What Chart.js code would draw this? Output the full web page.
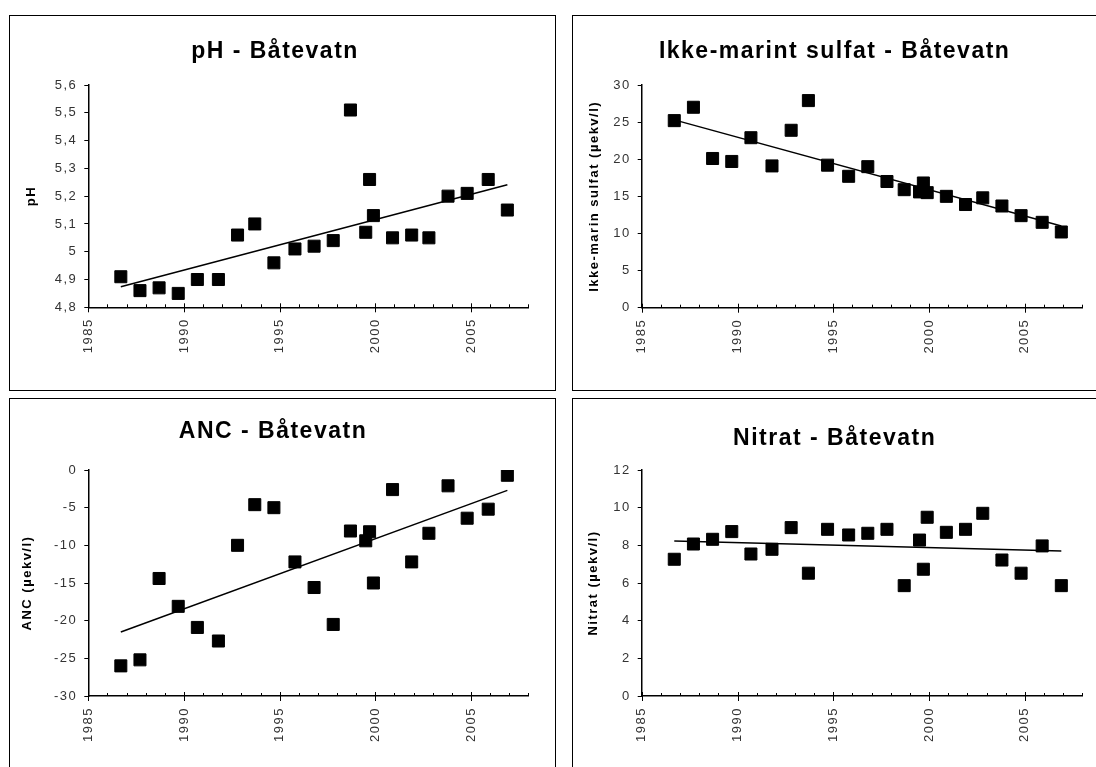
<!DOCTYPE html>
<html>
<head>
<meta charset="utf-8">
<title>Båtevatn</title>
<script src="https://cdn.jsdelivr.net/npm/chart.js@4.4.1/dist/chart.umd.min.js"></script>
<style>
    html, body { margin: 0; padding: 0; background: #fff; overflow: hidden; }
    body { position: relative; width: 1096px; height: 767px; }
    .panel { position: absolute; border: 1px solid #000; background: #fff; }
    .panel canvas { display: block; }
</style>
</head>
<body>

<div class="panel" style="left:9px;top:15px"><canvas id="phChart" width="545" height="374"></canvas></div>
<div class="panel" style="left:572px;top:15px"><canvas id="sulfatChart" width="536" height="374"></canvas></div>
<div class="panel" style="left:9px;top:398px"><canvas id="ancChart" width="545" height="380"></canvas></div>
<div class="panel" style="left:572px;top:398px"><canvas id="nitratChart" width="536" height="380"></canvas></div>

<script>
// sampling dates (decimal year), shared by all four series
const years = [1986.7, 1987.7, 1988.7, 1989.7, 1990.7, 1991.8, 1992.8, 1993.7, 1994.7, 1995.8, 1996.8, 1997.8,
    1998.7, 1999.5, 1999.7, 1999.9, 2000.9, 2001.9, 2002.8, 2003.8, 2004.8, 2005.9, 2006.9]

const phValues = [4.91, 4.86, 4.87, 4.85, 4.90, 4.90, 5.06, 5.10, 4.96, 5.01, 5.02, 5.04,
    5.51, 5.07, 5.26, 5.13, 5.05, 5.06, 5.05, 5.20, 5.21, 5.26, 5.15]
const sulfatValues = [25.2, 27.0, 20.1, 19.7, 22.9, 19.1, 23.9, 27.9, 19.2, 17.7, 19.0, 17.0,
    15.9, 15.6, 16.8, 15.5, 15.0, 13.9, 14.8, 13.7, 12.4, 11.5, 10.2]
const ancValues = [-26.0, -25.2, -14.4, -18.1, -20.9, -22.7, -10.0, -4.6, -5.0, -12.2, -15.6, -20.5,
    -8.1, -9.4, -8.2, -15.0, -2.6, -12.2, -8.4, -2.1, -6.4, -5.2, -0.7]
const nitratValues = [7.26, 8.07, 8.32, 8.73, 7.54, 7.79, 8.94, 6.52, 8.85, 8.55, 8.64, 8.85,
    5.86, 8.28, 6.73, 9.49, 8.69, 8.85, 9.70, 7.22, 6.52, 7.97, 5.86]

const trendYears = [1986.7, 2006.9]
const phTrend = [4.874, 5.241]
const sulfatTrend = [25.3, 11.0]
const ancTrend = [-21.5, -2.7]
const nitratTrend = [8.23, 7.70]

const FONT = "'Liberation Sans', Arial, sans-serif"

// excel-ish look: wide letter spacing and year ticks on the x axis
const excelLook = {
    id: 'excelLook',
    beforeDraw(chart) {
        chart.ctx.letterSpacing = '1.5px'
    },
    afterDraw(chart) {
        const ctx = chart.ctx
        const x = chart.scales.x
        const axisY = chart.chartArea.bottom
        ctx.save()
        ctx.letterSpacing = '0px'
        ctx.strokeStyle = '#000'
        ctx.lineWidth = 1
        x.ticks.forEach(t => {
            const px = Math.round(x.getPixelForValue(t.value)) + 0.5
            const major = t.value % 5 === 0
            ctx.beginPath()
            ctx.moveTo(px, axisY - (major ? 4 : 3))
            ctx.lineTo(px, axisY + (major ? 5 : 0))
            ctx.stroke()
        })
        ctx.restore()
        ctx.letterSpacing = '0px'
    }
}

function makeChart(id, o) {
    return new Chart(document.getElementById(id), {
        type: 'scatter',
        data: {
            datasets: [
                {
                    data: years.map((x, i) => ({ x, y: o.values[i] })),
                    pointStyle: 'rect',
                    pointRadius: 8.5,
                    backgroundColor: '#000',
                    borderColor: '#000',
                    borderWidth: 1
                },
                {
                    data: trendYears.map((x, i) => ({ x, y: o.trend[i] })),
                    showLine: true,
                    pointRadius: 0,
                    borderColor: '#000',
                    borderWidth: 1.5
                }
            ]
        },
        options: {
            responsive: false,
            animation: false,
            events: [],
            layout: { padding: { left: o.padLeft, right: o.padRight, top: 0, bottom: 0 } },
            plugins: {
                legend: { display: false },
                tooltip: { enabled: false },
                title: {
                    display: true,
                    text: o.title,
                    color: '#000',
                    font: { family: FONT, size: 23, weight: 'bold', lineHeight: 1.2 },
                    padding: { top: o.titleTop, bottom: o.titleBottom }
                }
            },
            scales: {
                x: {
                    type: 'linear',
                    min: 1985,
                    max: 2008,
                    afterFit: s => { s.height = o.xHeight },
                    border: { color: '#000', width: 1.5 },
                    grid: { display: false, drawTicks: false },
                    ticks: {
                        stepSize: 1,
                        autoSkip: false,
                        minRotation: 90,
                        maxRotation: 90,
                        padding: 11,
                        color: '#333',
                        font: { family: FONT, size: 13 },
                        callback: v => v % 5 === 0 ? String(v) : ''
                    }
                },
                y: {
                    min: o.min,
                    max: o.max,
                    afterFit: s => { s.width = o.yWidth },
                    border: { color: '#000', width: 1.5 },
                    grid: { drawOnChartArea: false, drawTicks: true, tickLength: 4, tickColor: '#000' },
                    ticks: {
                        stepSize: o.step,
                        padding: 7,
                        color: '#333',
                        font: { family: FONT, size: 13 },
                        callback: v => String(Math.round(v * 10) / 10).replace('.', ',')
                    },
                    title: {
                        display: true,
                        text: o.yTitle,
                        color: '#000',
                        font: { family: FONT, size: 13, weight: 'bold', lineHeight: 1.2 },
                        padding: { top: o.yTitlePad, bottom: 0 }
                    }
                }
            }
        },
        plugins: [excelLook]
    })
}

makeChart('phChart', {
    title: 'pH - Båtevatn', yTitle: 'pH',
    values: phValues, trend: phTrend, min: 4.8, max: 5.6, step: 0.1,
    padLeft: 10, padRight: 25, yWidth: 68.3, yTitlePad: 3.2,
    titleTop: 22.2, titleBottom: 19.2, xHeight: 82.7
})

makeChart('sulfatChart', {
    title: 'Ikke-marint sulfat - Båtevatn', yTitle: 'Ikke-marin sulfat (µekv/l)',
    values: sulfatValues, trend: sulfatTrend, min: 0, max: 30, step: 5,
    padLeft: 10, padRight: 22.7, yWidth: 58.7, yTitlePad: 3.2,
    titleTop: 22.2, titleBottom: 19.2, xHeight: 82.3
})

makeChart('ancChart', {
    title: 'ANC - Båtevatn', yTitle: 'ANC (µekv/l)',
    values: ancValues, trend: ancTrend, min: -30, max: 0, step: 5,
    padLeft: 6, padRight: 25, yWidth: 72.3, yTitlePad: 3.2,
    titleTop: 19.2, titleBottom: 24.2, xHeight: 83
})

makeChart('nitratChart', {
    title: 'Nitrat - Båtevatn', yTitle: 'Nitrat (µekv/l)',
    values: nitratValues, trend: nitratTrend, min: 0, max: 12, step: 2,
    padLeft: 10, padRight: 22.7, yWidth: 58.7, yTitlePad: 2.2,
    titleTop: 26.2, titleBottom: 17.2, xHeight: 83
})
</script>
</body>
</html>
